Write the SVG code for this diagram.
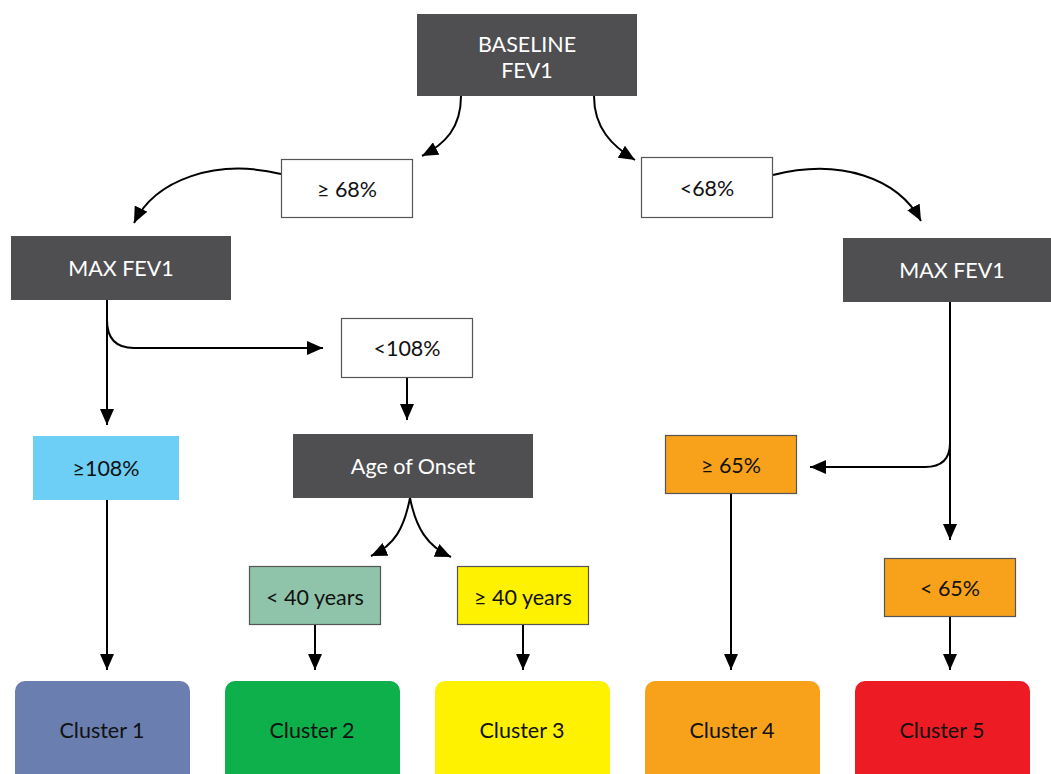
<svg xmlns="http://www.w3.org/2000/svg" width="1051" height="774" viewBox="0 0 1051 774">
<style>
.dark{fill:#4f4f51}
.lt{font-family:Lato,"Noto Sans",sans-serif;font-size:21.5px;text-anchor:middle;dominant-baseline:central}
.w{fill:#ffffff}
.b{fill:#111111}
.box{stroke:#555;stroke-width:1.2}
.conn{fill:none;stroke:#000;stroke-width:2}
</style>
<defs>
<marker id="ah" markerUnits="userSpaceOnUse" markerWidth="18" markerHeight="14" refX="16" refY="7" orient="auto">
<path d="M0,0 L16,7 L0,14 Z" fill="#000"/>
</marker>
</defs>
<rect width="1051" height="774" fill="#fff"/>
<g id="connectors">
<path class="conn" d="M461,96 C461,128 445,144 422,156" marker-end="url(#ah)"/>
<path class="conn" d="M594,96 C594,128 612,146 635,160" marker-end="url(#ah)"/>
<path class="conn" d="M281,174 C215,158 155,180 134,223" marker-end="url(#ah)"/>
<path class="conn" d="M773,175 C840,158 898,178 921,221" marker-end="url(#ah)"/>
<path class="conn" d="M107,300 L107,425" marker-end="url(#ah)"/>
<path class="conn" d="M107,320 C107,340 118,348 134,348 L323,348" marker-end="url(#ah)"/>
<path class="conn" d="M407,378 L407,420" marker-end="url(#ah)"/>
<path class="conn" d="M410,498 C404,528 395,545 371,556" marker-end="url(#ah)"/>
<path class="conn" d="M410,498 C416,528 427,546 451,557" marker-end="url(#ah)"/>
<path class="conn" d="M315,625 L315,670" marker-end="url(#ah)"/>
<path class="conn" d="M523,625 L523,670" marker-end="url(#ah)"/>
<path class="conn" d="M107,500 L107,670" marker-end="url(#ah)"/>
<path class="conn" d="M950,302 L950,540" marker-end="url(#ah)"/>
<path class="conn" d="M950,443 C950,460 940,467 925,467 L810,467" marker-end="url(#ah)"/>
<path class="conn" d="M731,494 L731,670" marker-end="url(#ah)"/>
<path class="conn" d="M950,617 L950,670" marker-end="url(#ah)"/>
</g>
<g id="baseline">
<rect class="dark" x="417" y="14" width="220" height="82"/>
<text class="lt w" x="527" y="44">BASELINE</text>
<text class="lt w" x="527" y="70">FEV1</text>
</g>
<g id="ge68">
<rect class="box" x="281.5" y="159.5" width="131" height="58" fill="#fff"/>
<text class="lt b" x="347" y="189">≥ 68%</text>
</g>
<g id="lt68">
<rect class="box" x="641.5" y="157.5" width="131" height="60" fill="#fff"/>
<text class="lt b" x="707" y="188">&lt;68%</text>
</g>
<g id="maxfev1-left">
<rect class="dark" x="11" y="236" width="220" height="64"/>
<text class="lt w" x="121" y="268">MAX FEV1</text>
</g>
<g id="maxfev1-right">
<rect class="dark" x="843" y="238" width="208" height="64"/>
<text class="lt w" x="952" y="270">MAX FEV1</text>
</g>
<g id="lt108">
<rect class="box" x="341.5" y="318.5" width="131" height="59" fill="#fff"/>
<text class="lt b" x="407" y="348">&lt;108%</text>
</g>
<g id="ge108">
<rect x="33" y="436" width="146" height="64" fill="#6dcff6"/>
<text class="lt b" x="106" y="468">≥108%</text>
</g>
<g id="age">
<rect class="dark" x="293" y="434" width="240" height="64"/>
<text class="lt w" x="413" y="466">Age of Onset</text>
</g>
<g id="ge65">
<rect class="box" x="665.5" y="435.5" width="131" height="58" fill="#f8a21c"/>
<text class="lt b" x="731" y="465">≥ 65%</text>
</g>
<g id="lt65">
<rect class="box" x="884.5" y="558.5" width="131" height="58" fill="#f8a21c"/>
<text class="lt b" x="950" y="588">&lt; 65%</text>
</g>
<g id="lt40">
<rect class="box" x="249.5" y="566.5" width="131" height="58" fill="#8fc4aa"/>
<text class="lt b" x="315" y="597">&lt; 40 years</text>
</g>
<g id="ge40">
<rect class="box" x="457.5" y="566.5" width="131" height="58" fill="#fff200"/>
<text class="lt b" x="523" y="597">≥ 40 years</text>
</g>
<g id="cluster1">
<rect x="15" y="681" width="175" height="110" rx="10" fill="#6b7eb0"/>
<text class="lt b" x="102" y="730">Cluster 1</text>
</g>
<g id="cluster2">
<rect x="225" y="681" width="175" height="110" rx="10" fill="#0db04b"/>
<text class="lt b" x="312" y="730">Cluster 2</text>
</g>
<g id="cluster3">
<rect x="435" y="681" width="175" height="110" rx="10" fill="#fff200"/>
<text class="lt b" x="522" y="730">Cluster 3</text>
</g>
<g id="cluster4">
<rect x="645" y="681" width="175" height="110" rx="10" fill="#f8a21c"/>
<text class="lt b" x="732" y="730">Cluster 4</text>
</g>
<g id="cluster5">
<rect x="855" y="681" width="175" height="110" rx="10" fill="#ed1c24"/>
<text class="lt b" x="942" y="730">Cluster 5</text>
</g>
</svg>
